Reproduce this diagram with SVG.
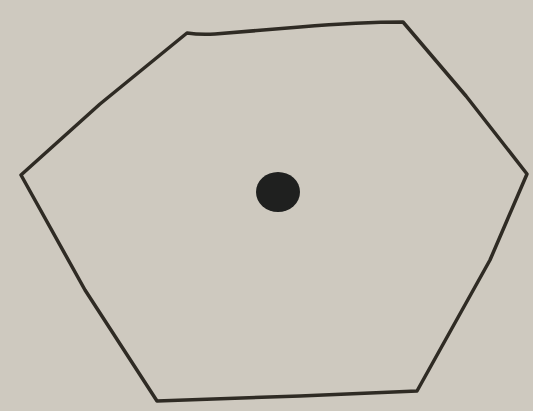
<svg xmlns="http://www.w3.org/2000/svg" width="533" height="411" viewBox="0 0 533 411">
<style>
.edge{fill:none;stroke:#2f2b24;stroke-width:3.5;stroke-linejoin:round;stroke-linecap:round}
</style>
<rect width="533" height="411" fill="#cec9bf"/>
<g id="hexagon">
<path class="edge" d="M187,33 Q200,35 215,34 L300,27 Q360,22 403,22 L466,96 L527,174 L490,260 L417,391 L300,396 L157,401 L85,290 L21,175 L100,104 Z"/>
</g>
<g id="dot">
<ellipse cx="278" cy="192" rx="22" ry="20" fill="#1f201f"/>
</g>
</svg>
